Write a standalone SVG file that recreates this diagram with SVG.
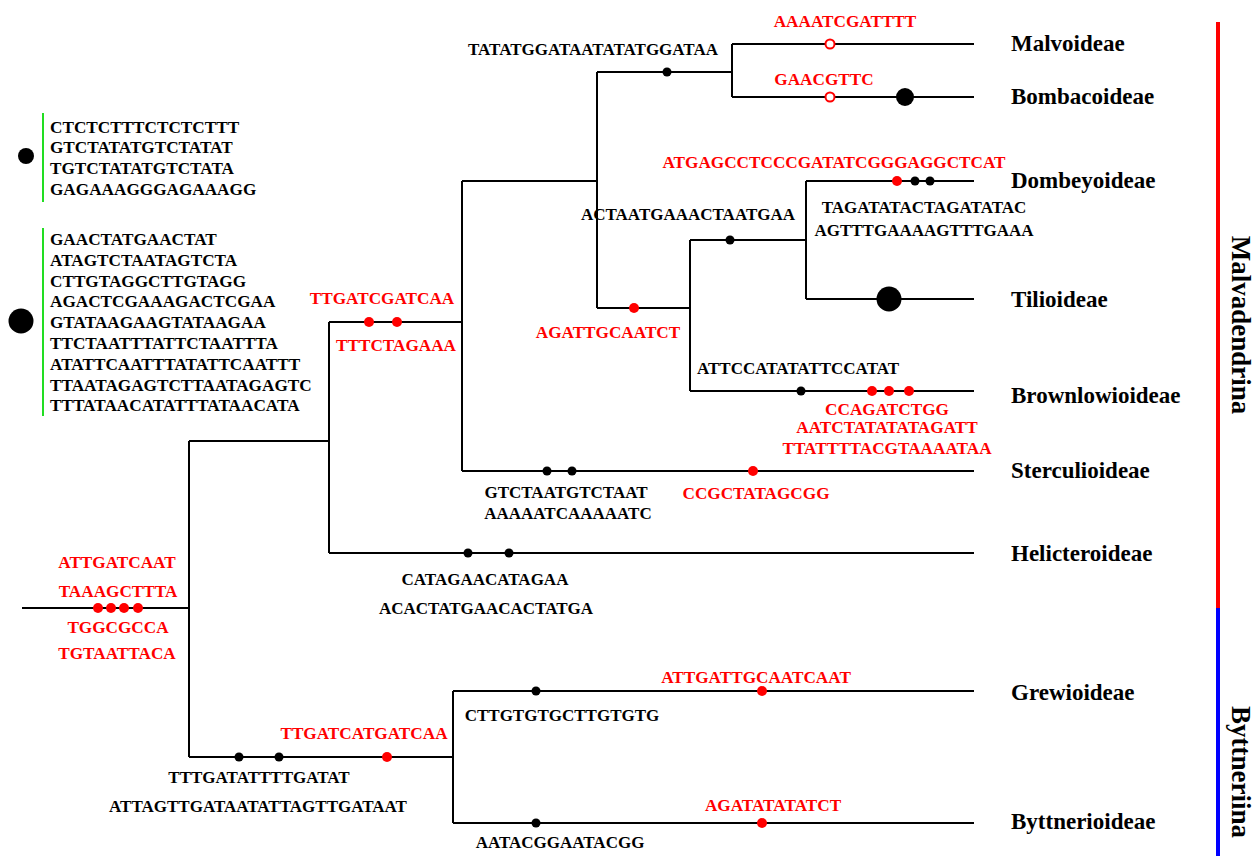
<svg xmlns="http://www.w3.org/2000/svg" width="1255" height="856" viewBox="0 0 1255 856">
<style>
.br{stroke:#000;stroke-width:2;fill:none}
.d{fill:#000}
.r{fill:#f00}
.o{fill:#fff;stroke:#f00;stroke-width:2}
text{font-family:"Liberation Serif","Times New Roman",serif;font-weight:bold}
.t{font-size:17px;fill:#000;text-anchor:middle}
.tr{font-size:17.2px;fill:#f00;text-anchor:middle}
.tx{font-size:23px;fill:#000}
.lg{font-size:17.2px;fill:#000}
.side{font-size:27px;fill:#000;text-anchor:middle}
.gl{stroke:#22dd22;stroke-width:2}
</style>
<rect width="1255" height="856" fill="#fff"/>
<g id="connectors" class="br">
<path d="M22,608H189M189,441V757M189,441H329M329,322V553M329,553H974M329,322H462M462,181V471M462,471H974M462,181H597M597,72V308M597,72H732M732,44V97M732,44H974M732,97H974M597,308H690M690,240V391M690,240H806M806,181V299M806,181H974M806,299H974M690,391H974M189,757H453M453,691V823M453,691H974M453,823H974"/>
</g>
<g id="marks">
<circle class="r" cx="98" cy="608" r="5"/><circle class="r" cx="111" cy="608" r="5"/><circle class="r" cx="124" cy="608" r="5"/><circle class="r" cx="138" cy="608" r="5"/>
<circle class="r" cx="369" cy="322" r="5"/><circle class="r" cx="397" cy="322" r="5"/>
<circle class="d" cx="468" cy="553" r="4.5"/><circle class="d" cx="509" cy="553" r="4.5"/>
<circle class="d" cx="547" cy="471" r="4.5"/><circle class="d" cx="572" cy="471" r="4.5"/><circle class="r" cx="753" cy="471" r="5"/>
<circle class="d" cx="667" cy="72" r="4.5"/>
<circle class="o" cx="830" cy="44" r="4.5"/>
<circle class="o" cx="830" cy="97" r="4.5"/><circle class="d" cx="905" cy="97" r="9"/>
<circle class="r" cx="634" cy="308" r="5"/>
<circle class="d" cx="730" cy="240" r="4.5"/>
<circle class="r" cx="897" cy="181" r="5"/><circle class="d" cx="915" cy="181" r="4.5"/><circle class="d" cx="930" cy="181" r="4.5"/>
<circle class="d" cx="889" cy="299" r="12.5"/>
<circle class="d" cx="801" cy="391" r="4.5"/><circle class="r" cx="872" cy="391" r="5"/><circle class="r" cx="889" cy="391" r="5"/><circle class="r" cx="909" cy="391" r="5"/>
<circle class="d" cx="239" cy="757" r="4.5"/><circle class="d" cx="279" cy="757" r="4.5"/><circle class="r" cx="387" cy="757" r="5"/>
<circle class="d" cx="536" cy="691" r="4.5"/><circle class="r" cx="762" cy="691" r="5"/>
<circle class="d" cx="536" cy="823" r="4.5"/><circle class="r" cx="762" cy="823" r="5"/>
</g>
<g id="branch-labels">
<text class="tr" x="117" y="568">ATTGATCAAT</text>
<text class="tr" x="118" y="597">TAAAGCTTTA</text>
<text class="tr" x="118" y="633">TGGCGCCA</text>
<text class="tr" x="117" y="659">TGTAATTACA</text>
<text class="tr" x="382" y="304">TTGATCGATCAA</text>
<text class="tr" x="396" y="351">TTTCTAGAAA</text>
<text class="tr" x="845" y="27">AAAATCGATTTT</text>
<text class="tr" x="824" y="85">GAACGTTC</text>
<text class="tr" x="834" y="168">ATGAGCCTCCCGATATCGGGAGGCTCAT</text>
<text class="tr" x="608" y="338">AGATTGCAATCT</text>
<text class="tr" x="887" y="415">CCAGATCTGG</text>
<text class="tr" x="887" y="433">AATCTATATATAGATT</text>
<text class="tr" x="887" y="454">TTATTTTACGTAAAATAA</text>
<text class="tr" x="756" y="499">CCGCTATAGCGG</text>
<text class="tr" x="364" y="739">TTGATCATGATCAA</text>
<text class="tr" x="756" y="683">ATTGATTGCAATCAAT</text>
<text class="tr" x="773" y="811">AGATATATATCT</text>
<text class="t" x="593" y="55">TATATGGATAATATATGGATAA</text>
<text class="t" x="688" y="220">ACTAATGAAACTAATGAA</text>
<text class="t" x="924" y="213">TAGATATACTAGATATAC</text>
<text class="t" x="924" y="236">AGTTTGAAAAGTTTGAAA</text>
<text class="t" x="798" y="374">ATTCCATATATTCCATAT</text>
<text class="t" x="566" y="498">GTCTAATGTCTAAT</text>
<text class="t" x="568" y="519">AAAAATCAAAAATC</text>
<text class="t" x="485" y="585">CATAGAACATAGAA</text>
<text class="t" x="486" y="614">ACACTATGAACACTATGA</text>
<text class="t" x="259" y="783">TTTGATATTTTGATAT</text>
<text class="t" x="258" y="812">ATTAGTTGATAATATTAGTTGATAAT</text>
<text class="t" x="562" y="721">CTTGTGTGCTTGTGTG</text>
<text class="t" x="560" y="848">AATACGGAATACGG</text>
</g>
<g id="Malvoideae"><text class="tx" x="1011" y="51">Malvoideae</text></g>
<g id="Bombacoideae"><text class="tx" x="1011" y="104">Bombacoideae</text></g>
<g id="Dombeyoideae"><text class="tx" x="1011" y="188">Dombeyoideae</text></g>
<g id="Tilioideae"><text class="tx" x="1011" y="307">Tilioideae</text></g>
<g id="Brownlowioideae"><text class="tx" x="1011" y="403">Brownlowioideae</text></g>
<g id="Sterculioideae"><text class="tx" x="1011" y="478">Sterculioideae</text></g>
<g id="Helicteroideae"><text class="tx" x="1011" y="561">Helicteroideae</text></g>
<g id="Grewioideae"><text class="tx" x="1011" y="700">Grewioideae</text></g>
<g id="Byttnerioideae"><text class="tx" x="1011" y="829">Byttnerioideae</text></g>
<g id="clades">
<rect x="1216" y="22" width="4" height="586" fill="#f00"/>
<rect x="1216" y="608" width="4" height="248" fill="#00f"/>
<text class="side" transform="translate(1232,325) rotate(90)">Malvadendrina</text>
<text class="side" transform="translate(1232,772) rotate(90)">Byttneriina</text>
</g>
<g id="legend-small">
<circle cx="26" cy="156" r="8" fill="#000"/>
<line class="gl" x1="43" y1="113" x2="43" y2="202"/>
<text class="lg" x="50" y="133">CTCTCTTTCTCTCTTT</text>
<text class="lg" x="50" y="153">GTCTATATGTCTATAT</text>
<text class="lg" x="50" y="174">TGTCTATATGTCTATA</text>
<text class="lg" x="50" y="195">GAGAAAGGGAGAAAGG</text>
</g>
<g id="legend-large">
<circle cx="21" cy="321" r="12.5" fill="#000"/>
<line class="gl" x1="43" y1="228" x2="43" y2="416"/>
<text class="lg" x="50" y="245">GAACTATGAACTAT</text>
<text class="lg" x="50" y="266">ATAGTCTAATAGTCTA</text>
<text class="lg" x="50" y="287">CTTGTAGGCTTGTAGG</text>
<text class="lg" x="50" y="307">AGACTCGAAAGACTCGAA</text>
<text class="lg" x="50" y="328">GTATAAGAAGTATAAGAA</text>
<text class="lg" x="50" y="349">TTCTAATTTATTCTAATTTA</text>
<text class="lg" x="50" y="370">ATATTCAATTTATATTCAATTT</text>
<text class="lg" x="50" y="391">TTAATAGAGTCTTAATAGAGTC</text>
<text class="lg" x="50" y="411">TTTATAACATATTTATAACATA</text>
</g>
</svg>
